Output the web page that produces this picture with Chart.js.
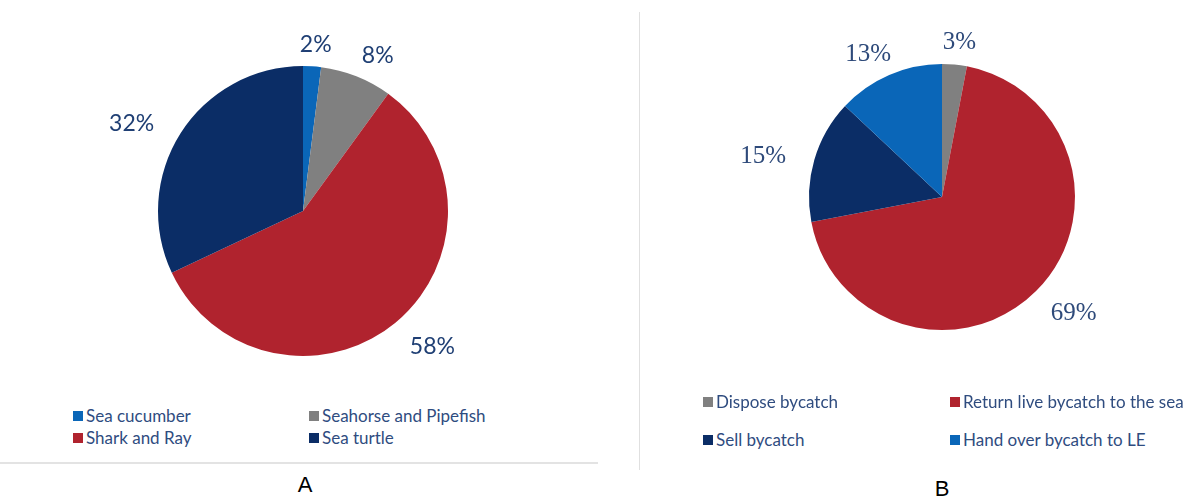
<!DOCTYPE html>
<html>
<head>
<meta charset="utf-8">
<script src="https://cdn.jsdelivr.net/npm/chart.js@4/dist/chart.umd.min.js"></script>
<style>
  html, body { margin: 0; padding: 0; background: #ffffff; }
  body { width: 1198px; height: 499px; position: relative; overflow: hidden; font-family: Lato, "Open Sans", sans-serif; }
  .box { position: absolute; }
  #panelA { left: 0; top: 0; width: 600px; height: 400px; }
  #panelB { left: 640px; top: 0; width: 558px; height: 400px; }
  .rule-h { position: absolute; left: 0; top: 462px; width: 598px; height: 2px; background: #e3e3e3; }
  .rule-v { position: absolute; left: 639px; top: 12px; width: 1px; height: 458px; background: #e0e0e0; }
  .legend-item { position: absolute; display: flex; align-items: center; font-size: 17px; color: #2f4c7f; white-space: nowrap; line-height: 1; }
  .legend-item .sw { width: 10px; height: 10px; margin-right: 3px; flex: none; }
  .caption { position: absolute; font-family: "Liberation Sans", Arial, sans-serif; font-size: 22px; color: #000; transform: translate(-50%, -50%); }
</style>
</head>
<body>
<div class="box" id="panelA"><canvas id="chartA" width="600" height="400"></canvas></div>
<div class="box" id="panelB"><canvas id="chartB" width="558" height="400"></canvas></div>
<div class="rule-h"></div>
<div class="rule-v"></div>
<div id="legendA"></div>
<div id="legendB"></div>
<div class="caption" style="left:305px; top:485px;">A</div>
<div class="caption" style="left:942px; top:489px;">B</div>

<script>
// Bycatch species composition (A)
const speciesLabels = ["Sea cucumber", "Seahorse and Pipefish", "Shark and Ray", "Sea turtle"];
const speciesShare = [2, 8, 58, 32];
const speciesColors = ["#0a66b8", "#808080", "#b0232e", "#0b2d66"];

// What fishers do with bycatch (B)
const actionLabels = ["Dispose bycatch", "Return live bycatch to the sea", "Sell bycatch", "Hand over bycatch to LE"];
const actionShare = [3, 69, 15, 13];
const actionColors = ["#808080", "#b0232e", "#0b2d66", "#0a66b8"];

// Draws the percentage beside each slice on an ellipse around the pie,
// wider than tall so the horizontal text clears the rim
function outsideLabels(font, color, kx, ky) {
  return {
    id: "outsideLabels",
    afterDatasetsDraw(chart) {
      const ctx = chart.ctx;
      const meta = chart.getDatasetMeta(0);
      const values = chart.data.datasets[0].data;
      ctx.save();
      ctx.font = font;
      ctx.fillStyle = color;
      ctx.textAlign = "center";
      ctx.textBaseline = "middle";
      meta.data.forEach((arc, i) => {
        const p = arc.getProps(["x", "y", "startAngle", "endAngle", "outerRadius"], true);
        const mid = (p.startAngle + p.endAngle) / 2;
        const tx = p.x + Math.cos(mid) * p.outerRadius * kx;
        // digits sit above the em-box middle, so nudge down to centre them visually
        const ty = p.y + Math.sin(mid) * p.outerRadius * ky + 4;
        ctx.fillText(values[i] + "%", tx, ty);
      });
      ctx.restore();
    }
  };
}

function makePie(id, labels, values, colors, padding, labelPlugin) {
  return new Chart(document.getElementById(id), {
    type: "pie",
    data: {
      labels: labels,
      datasets: [{ data: values, backgroundColor: colors, borderWidth: 0 }]
    },
    options: {
      responsive: false,
      animation: false,
      layout: { padding: padding },
      plugins: { legend: { display: false }, tooltip: { enabled: false } }
    },
    plugins: [labelPlugin]
  });
}

makePie("chartA", speciesLabels, speciesShare, speciesColors,
  { left: 158, right: 152, top: 66, bottom: 44 },
  outsideLabels('23px Lato, "Open Sans", sans-serif', "#1f3f74", 1.40, 1.18));

makePie("chartB", actionLabels, actionShare, actionColors,
  { left: 169, right: 123, top: 64, bottom: 70 },
  outsideLabels('25px "Liberation Serif", serif', "#2e4a7a", 1.40, 1.20));

// Two-column legends built from the same label and colour arrays
function buildLegend(containerId, labels, colors, cols, rows) {
  const host = document.getElementById(containerId);
  labels.forEach((name, i) => {
    const item = document.createElement("div");
    item.className = "legend-item";
    item.style.left = cols[i % 2] + "px";
    item.style.top = (rows[Math.floor(i / 2)] - 8) + "px";
    const sw = document.createElement("span");
    sw.className = "sw";
    sw.style.background = colors[i];
    const tx = document.createElement("span");
    tx.textContent = name;
    item.appendChild(sw);
    item.appendChild(tx);
    host.appendChild(item);
  });
}
buildLegend("legendA", speciesLabels, speciesColors, [73, 309], [415, 437]);
buildLegend("legendB", actionLabels, actionColors, [703, 950], [401, 439]);
</script>
</body>
</html>
